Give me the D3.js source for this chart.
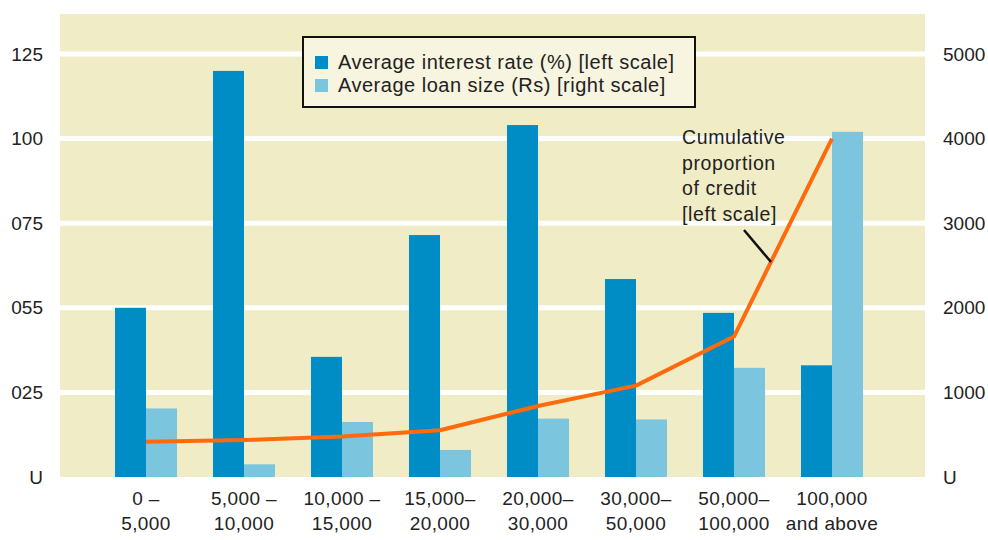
<!DOCTYPE html>
<html>
<head>
<meta charset="utf-8">
<script src="https://cdn.jsdelivr.net/npm/d3@7"></script>
<style>
  body { margin: 0; background: #fff; }
  svg text { font-family: "Liberation Sans Narrow", "Arial Narrow", "Liberation Sans", sans-serif; fill: #222; }
</style>
</head>
<body>
<svg id="chart" width="988" height="540"></svg>
<script>
// loan size bands (Rs), two-line labels
var categories = ["0–5,000", "5,000–10,000", "10,000–15,000", "15,000–20,000",
  "20,000–30,000", "30,000–50,000", "50,000–100,000", "100,000 and above"];
var catLines = [["0 –", "5,000"], ["5,000 –", "10,000"], ["10,000 –", "15,000"], ["15,000–", "20,000"],
  ["20,000–", "30,000"], ["30,000–", "50,000"], ["50,000–", "100,000"], ["100,000", "and above"]];

var interestRate = [50, 120, 35.5, 71.5, 104, 58.5, 48.5, 33];        // left scale
var loanSize = [810, 150, 650, 320, 690, 680, 1290, 4080];            // right scale
var cumulativeCredit = [10.4, 10.9, 12, 13.8, 21, 27, 41.5, 100];     // left scale

var leftTicks = [0, 25, 50, 75, 100, 125];
var leftTickLabels = ["U", "025", "055", "075", "100", "125"];
var rightTicks = [0, 1000, 2000, 3000, 4000, 5000];
var rightTickLabels = ["U", "1000", "2000", "3000", "4000", "5000"];

var svg = d3.select("#chart");
var plot = {left: 60, right: 925, top: 14, bottom: 477};

var x0 = d3.scaleBand().domain(categories).range([97, 881]);
var x1 = d3.scaleBand().domain(["rate", "loan"]).range([0, x0.bandwidth()]).paddingInner(0).paddingOuter(0.58);
var yL = d3.scaleLinear().domain([0, 125]).range([plot.bottom, 54]);
var yR = d3.scaleLinear().domain([0, 5000]).range([plot.bottom, 54]);

// background
svg.append("rect")
  .attr("x", plot.left).attr("y", plot.top)
  .attr("width", plot.right - plot.left).attr("height", plot.bottom - plot.top)
  .attr("fill", "#f0ecc6");

// gridlines
svg.append("g").selectAll("line")
  .data(leftTicks.slice(1))
  .enter().append("line")
  .attr("x1", plot.left).attr("x2", plot.right)
  .attr("y1", function(d) { return yL(d); })
  .attr("y2", function(d) { return yL(d); })
  .attr("stroke", "#fff").attr("stroke-width", 5);

// bars
var groups = svg.append("g").selectAll("g")
  .data(categories)
  .enter().append("g")
  .attr("transform", function(d) { return "translate(" + x0(d) + ",0)"; });

groups.append("rect")
  .attr("x", x1("rate"))
  .attr("width", x1.bandwidth())
  .attr("y", function(d, i) { return yL(interestRate[i]); })
  .attr("height", function(d, i) { return plot.bottom - yL(interestRate[i]); })
  .attr("fill", "#008cc4");

groups.append("rect")
  .attr("x", x1("loan"))
  .attr("width", x1.bandwidth())
  .attr("y", function(d, i) { return yR(loanSize[i]); })
  .attr("height", function(d, i) { return plot.bottom - yR(loanSize[i]); })
  .attr("fill", "#7bc5de");

// cumulative line
var line = d3.line()
  .x(function(d, i) { return x0(categories[i]) + x0.bandwidth() / 2; })
  .y(function(d) { return yL(d); });

svg.append("path")
  .datum(cumulativeCredit)
  .attr("d", line)
  .attr("fill", "none")
  .attr("stroke", "#ff6a0d")
  .attr("stroke-width", 4)
  .attr("stroke-linejoin", "round");

// left axis labels
svg.append("g").selectAll("text")
  .data(leftTicks)
  .enter().append("text")
  .attr("x", 43)
  .attr("y", function(d) { return yL(d); })
  .attr("dy", "0.35em")
  .attr("text-anchor", "end")
  .attr("font-size", 19)
  .text(function(d, i) { return leftTickLabels[i]; });

// right axis labels
svg.append("g").selectAll("text")
  .data(rightTicks)
  .enter().append("text")
  .attr("x", 943)
  .attr("y", function(d) { return yR(d); })
  .attr("dy", "0.35em")
  .attr("text-anchor", "start")
  .attr("font-size", 19)
  .text(function(d, i) { return rightTickLabels[i]; });

// x labels
var xl = svg.append("g").selectAll("text")
  .data(categories)
  .enter().append("text")
  .attr("x", function(d) { return x0(d) + x0.bandwidth() / 2; })
  .attr("y", 505)
  .attr("text-anchor", "middle")
  .attr("font-size", 19)
  .attr("letter-spacing", 0.4);
xl.append("tspan")
  .attr("x", function(d) { return x0(d) + x0.bandwidth() / 2; })
  .text(function(d, i) { return catLines[i][0]; });
xl.append("tspan")
  .attr("x", function(d) { return x0(d) + x0.bandwidth() / 2; })
  .attr("dy", 25)
  .text(function(d, i) { return catLines[i][1]; });

// legend
var legend = svg.append("g").attr("transform", "translate(303,37)");
legend.append("rect")
  .attr("width", 392).attr("height", 70)
  .attr("fill", "#f7f4e0").attr("stroke", "#111").attr("stroke-width", 2);
var legendItems = [
  {label: "Average interest rate (%) [left scale]", color: "#008cc4"},
  {label: "Average loan size (Rs) [right scale]", color: "#7bc5de"}
];
var li = legend.selectAll("g.item")
  .data(legendItems)
  .enter().append("g")
  .attr("transform", function(d, i) { return "translate(12," + (25 + i * 23) + ")"; });
li.append("rect")
  .attr("x", 0).attr("y", -6).attr("width", 13).attr("height", 13)
  .attr("fill", function(d) { return d.color; });
li.append("text")
  .attr("x", 23).attr("dy", "0.35em")
  .attr("font-size", 20)
  .attr("letter-spacing", 0.5)
  .text(function(d) { return d.label; });

// annotation
var note = svg.append("text")
  .attr("x", 682).attr("y", 144)
  .attr("font-size", 19.5)
  .attr("letter-spacing", 0.6);
["Cumulative", "proportion", "of credit", "[left scale]"].forEach(function(t, i) {
  note.append("tspan").attr("x", 682).attr("dy", i === 0 ? 0 : 25.5).text(t);
});
svg.append("line")
  .attr("x1", 744).attr("y1", 230)
  .attr("x2", 771).attr("y2", 262)
  .attr("stroke", "#111").attr("stroke-width", 2.5);
</script>
</body>
</html>
